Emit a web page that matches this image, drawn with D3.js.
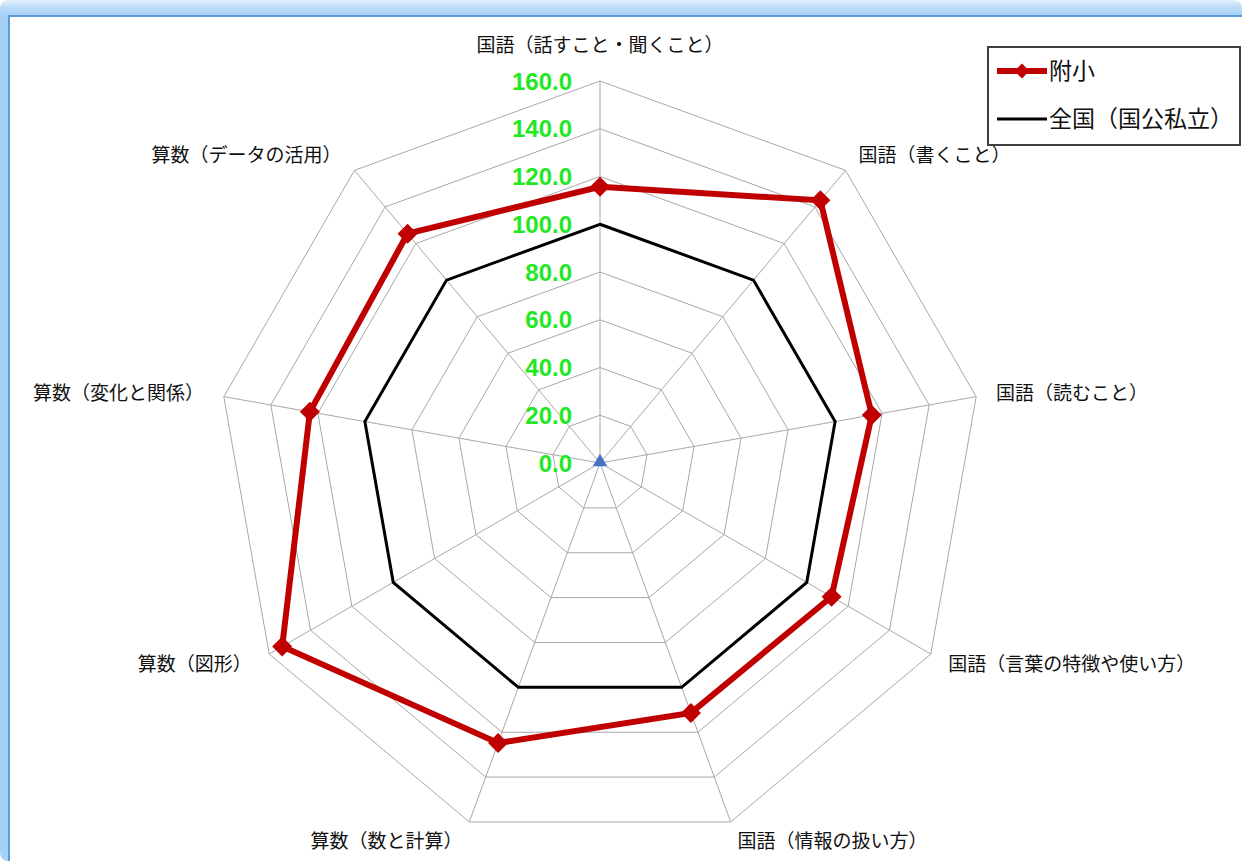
<!DOCTYPE html>
<html>
<head>
<meta charset="utf-8">
<script src="https://cdnjs.cloudflare.com/ajax/libs/d3/7.8.5/d3.min.js"></script>
<style>
    body { margin: 0; background: #ffffff; }
    svg { display: block; }
    .axis-label { font-family: "Noto Sans CJK JP", sans-serif; font-size: 19px; fill: #111111; }
    .tick-label { font-family: "Liberation Sans", Arial, sans-serif; font-size: 24px; font-weight: bold; fill: #22e822; }
    .legend-label { font-family: "Noto Sans CJK JP", sans-serif; font-size: 23px; fill: #111111; }
</style>
</head>
<body>
<div id="chart"></div>
<script>
/*
 * Chart data.
 */
var categories = [
    '国語（話すこと・聞くこと）',
    '国語（書くこと）',
    '国語（読むこと）',
    '国語（言葉の特徴や使い方）',
    '国語（情報の扱い方）',
    '算数（数と計算）',
    '算数（図形）',
    '算数（変化と関係）',
    '算数（データの活用）'
];
var fuzokuValues = [115.7, 143.6, 115.6, 112.0, 111.4, 124.8, 153.7, 123.4, 125.4];
var nationalValues = [100, 100, 100, 100, 100, 100, 100, 100, 100];
var seriesNames = ['附小', '全国（国公私立）'];
var tickValues = [0, 20, 40, 60, 80, 100, 120, 140, 160];


/**
 * Radar chart.
 * @public
 * @class
 */
function RadarChart() {
    /*
     * Canvas size.
     */
    this._width = 1242;
    this._height = 861;
    /*
     * Plot center and outer radius.
     */
    this._center = [600, 463];
    this._radius = 382;
    /*
     * Radius scale.
     */
    this._rScale = d3.scaleLinear()
        .domain([0, d3.max(tickValues)])
        .range([0, this._radius]);
    /*
     * Angle scale, clockwise from 12 o'clock.
     */
    this._aScale = d3.scaleLinear()
        .domain([0, categories.length])
        .range([0, 2 * Math.PI]);
    /*
     * Closed radial line generator.
     */
    this._radial = d3.lineRadial()
        .angle((d, i) => this._aScale(i))
        .radius(d => this._rScale(d))
        .curve(d3.curveLinearClosed);
}


/**
 * Point on the chart for category index and value.
 * @private
 */
RadarChart.prototype._point = function(i, value) {

    var a = this._aScale(i), r = this._rScale(value);
    return [Math.sin(a) * r, -Math.cos(a) * r];
};


/**
 * Render chart.
 * @public
 */
RadarChart.prototype.renderTo = function(selection) {

    var self = this;

    this._svg = d3.select(selection).append('svg')
        .attr('width', this._width)
        .attr('height', this._height);

    this._drawFrame();

    var g = this._svg.append('g')
        .attr('transform', 'translate(' + this._center + ')');
    /*
     * Grid polygons.
     */
    g.selectAll('.grid')
        .data(tickValues.slice(1))
        .join('path')
        .attr('class', 'grid')
        .attr('d', v => this._radial(categories.map(() => v)))
        .attr('fill', 'none')
        .attr('stroke', '#a8a8a8')
        .attr('stroke-width', 1);
    /*
     * Spokes.
     */
    g.selectAll('.spoke')
        .data(categories)
        .join('line')
        .attr('class', 'spoke')
        .attr('x1', 0)
        .attr('y1', 0)
        .attr('x2', (d, i) => this._point(i, d3.max(tickValues))[0])
        .attr('y2', (d, i) => this._point(i, d3.max(tickValues))[1])
        .attr('stroke', '#a8a8a8')
        .attr('stroke-width', 1);
    /*
     * Category labels.
     */
    g.selectAll('.axis-label')
        .data(categories)
        .join('text')
        .attr('class', 'axis-label')
        .attr('x', function(d, i) {
            var a = self._aScale(i);
            return Math.sin(a) * (self._radius + 20);
        })
        .attr('y', function(d, i) {
            var a = self._aScale(i);
            var pad = i === 0 ? 36 : 20;
            return -Math.cos(a) * (self._radius + pad);
        })
        .attr('dy', '0.36em')
        .attr('text-anchor', function(d, i) {
            var s = Math.sin(self._aScale(i));
            return Math.abs(s) < 0.01 ? 'middle' : (s > 0 ? 'start' : 'end');
        })
        .text(d => d);
    /*
     * National series (black).
     */
    g.append('path')
        .attr('d', this._radial(nationalValues))
        .attr('fill', 'none')
        .attr('stroke', '#000000')
        .attr('stroke-width', 3)
        .attr('stroke-linejoin', 'miter');
    /*
     * School series (red) with diamond markers.
     */
    g.append('path')
        .attr('d', this._radial(fuzokuValues))
        .attr('fill', 'none')
        .attr('stroke', '#c00000')
        .attr('stroke-width', 6)
        .attr('stroke-linejoin', 'miter');

    g.selectAll('.marker')
        .data(fuzokuValues)
        .join('path')
        .attr('class', 'marker')
        .attr('d', d3.symbol(d3.symbolSquare, 200))
        .attr('transform', (d, i) => 'translate(' + this._point(i, d) + ') rotate(45)')
        .attr('fill', '#c00000');
    /*
     * Center marker.
     */
    g.append('path')
        .attr('d', d3.symbol(d3.symbolTriangle, 90))
        .attr('transform', 'translate(0,-1)')
        .attr('fill', '#4472c4');
    /*
     * Tick labels.
     */
    g.selectAll('.tick-label')
        .data(tickValues)
        .join('text')
        .attr('class', 'tick-label')
        .attr('x', -28)
        .attr('y', d => -this._rScale(d))
        .attr('dy', '0.36em')
        .attr('text-anchor', 'end')
        .text(d => d3.format('.1f')(d));

    this._drawLegend();

    return this;
};


/**
 * Draw window-like blue frame.
 * @private
 */
RadarChart.prototype._drawFrame = function() {

    var grad = this._svg.append('defs').append('linearGradient')
        .attr('id', 'frameGrad')
        .attr('gradientUnits', 'userSpaceOnUse')
        .attr('x1', 0).attr('y1', 0)
        .attr('x2', 0).attr('y2', 16);
    grad.append('stop').attr('offset', 0).attr('stop-color', '#e4f1fd');
    grad.append('stop').attr('offset', 0.45).attr('stop-color', '#bcdcf9');
    grad.append('stop').attr('offset', 1).attr('stop-color', '#a6d0f6');

    this._svg.append('rect')
        .attr('width', this._width)
        .attr('height', this._height)
        .attr('rx', 8)
        .attr('fill', 'url(#frameGrad)');

    this._svg.append('rect')
        .attr('x', 9)
        .attr('y', 16)
        .attr('width', this._width + 20)
        .attr('height', this._height + 20)
        .attr('fill', '#ffffff')
        .attr('stroke', '#5b9bd8')
        .attr('stroke-width', 2);
};


/**
 * Draw legend.
 * @private
 */
RadarChart.prototype._drawLegend = function() {

    var legend = this._svg.append('g')
        .attr('transform', 'translate(988,47)');

    legend.append('rect')
        .attr('width', 252)
        .attr('height', 98)
        .attr('fill', '#ffffff')
        .attr('stroke', '#404040')
        .attr('stroke-width', 2);

    var styles = [
        { color: '#c00000', width: 6, marker: true },
        { color: '#000000', width: 3, marker: false }
    ];

    var rows = legend.selectAll('.legend-row')
        .data(seriesNames)
        .join('g')
        .attr('class', 'legend-row')
        .attr('transform', (d, i) => 'translate(0,' + (24 + i * 48) + ')');

    rows.append('line')
        .attr('x1', 9)
        .attr('x2', 59)
        .attr('stroke', (d, i) => styles[i].color)
        .attr('stroke-width', (d, i) => styles[i].width);

    rows.filter((d, i) => styles[i].marker)
        .append('path')
        .attr('d', d3.symbol(d3.symbolSquare, 110))
        .attr('transform', 'translate(34,0) rotate(45)')
        .attr('fill', '#c00000');

    rows.append('text')
        .attr('class', 'legend-label')
        .attr('x', 61)
        .attr('dy', '0.36em')
        .text(d => d);
};


RadarChart.getInstance = function() {

    return new RadarChart();
};

RadarChart.getInstance().renderTo('#chart');
</script>
</body>
</html>
